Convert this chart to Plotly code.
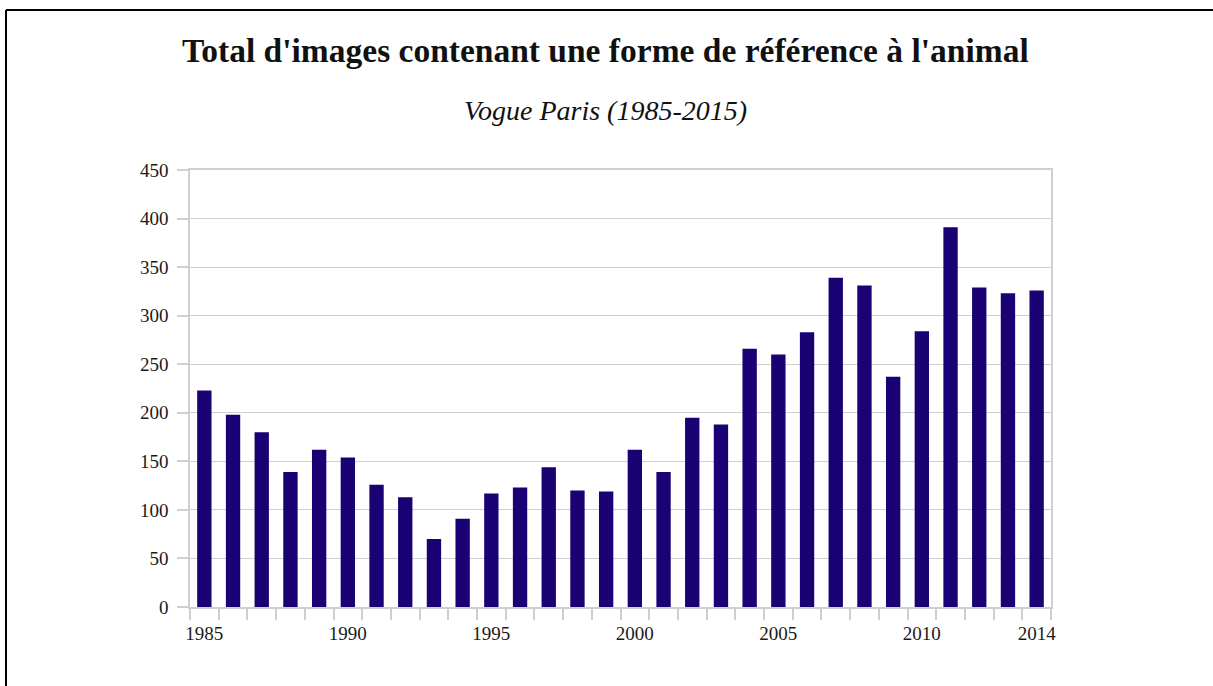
import plotly.graph_objects as go

years = list(range(1985, 2015))
values = [223, 198, 180, 139, 162, 154, 126, 113, 70, 91,
          117, 123, 144, 120, 119, 162, 139, 195, 188, 266,
          260, 283, 339, 331, 237, 284, 391, 329, 323, 326]
x_tick_vals = [1985, 1990, 1995, 2000, 2005, 2010, 2014]
x_tick_text = ["1985", "1990", "1995", "2000", "2005", "2010", "2014"]
y_tick_vals = [0, 50, 100, 150, 200, 250, 300, 350, 400, 450]

title_text = "Total d'images contenant une forme de référence à l'animal"
subtitle_text = "Vogue Paris (1985-2015)"

W, H = 1213, 686
L, R, T, B = 190, 1051, 170, 607  # plot area in pixels


def px(xp):
    return (xp - L) / (R - L)


def py(yp):
    return (B - yp) / (B - T)


fig = go.Figure(go.Bar(
    x=years, y=values,
    marker=dict(color="#1b0274", line=dict(width=0)),
    width=0.5,
))

grey = "#cfcfcf"
fig.update_layout(
    width=W, height=H,
    margin=dict(l=L, r=W - R, t=T, b=H - B, pad=0),
    paper_bgcolor="white", plot_bgcolor="white",
    font=dict(family="Liberation Serif", size=19, color="#1a1a1a"),
    showlegend=False,
    xaxis=dict(
        range=[1984.5, 2014.5],
        tickvals=x_tick_vals, ticktext=x_tick_text,
        ticks="", showgrid=False,
        showline=True, linecolor=grey, linewidth=1.5, mirror=True,
        minor=dict(tick0=1984.5, dtick=1, ticks="outside", ticklen=11,
                   tickcolor=grey, tickwidth=1.5, showgrid=False),
        zeroline=False,
        ticklabelstandoff=8,
    ),
    yaxis=dict(
        range=[0, 450],
        tickvals=y_tick_vals,
        ticks="outside", ticklen=11, tickcolor=grey, tickwidth=1.5,
        showgrid=True, gridcolor=grey, gridwidth=1.2,
        showline=True, linecolor=grey, linewidth=1.5, mirror=True,
        zeroline=False,
        ticklabelstandoff=5,
    ),
    annotations=[
        dict(text="<b>" + title_text + "</b>", x=px(605), y=py(50),
             xref="paper", yref="paper", xanchor="center", yanchor="middle",
             showarrow=False, font=dict(family="Liberation Serif", size=33.5, color="#111")),
        dict(text="<i>" + subtitle_text + "</i>", x=px(605), y=py(110),
             xref="paper", yref="paper", xanchor="center", yanchor="middle",
             showarrow=False, font=dict(family="Liberation Serif", size=28, color="#111")),
    ],
    shapes=[
        dict(type="line", xref="paper", yref="paper",
             x0=px(6), x1=px(W + 5), y0=py(10), y1=py(10),
             line=dict(color="black", width=2)),
        dict(type="line", xref="paper", yref="paper",
             x0=px(6), x1=px(6), y0=py(10), y1=py(H + 5),
             line=dict(color="black", width=2)),
    ],
)

fig.write_html("out.html", config={"displayModeBar": False},
               post_script="document.body.style.margin='0';")
